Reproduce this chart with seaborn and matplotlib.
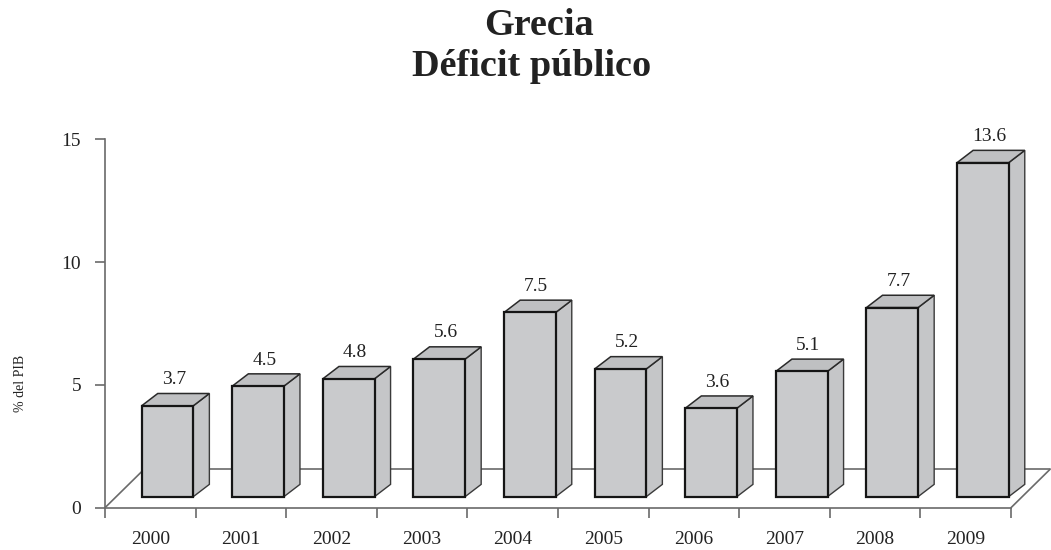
import matplotlib
matplotlib.use("Agg")
import matplotlib.pyplot as plt
from matplotlib.patches import Polygon
import numpy as np
import pandas as pd
import seaborn as sns

# Greek public deficit, % of GDP
years = ["2000", "2001", "2002", "2003", "2004", "2005", "2006", "2007", "2008", "2009"]
deficit = [3.7, 4.5, 4.8, 5.6, 7.5, 5.2, 3.6, 5.1, 7.7, 13.6]
y_ticks = [0, 5, 10, 15]

title_line1 = "Grecia"
title_line2 = "Déficit público"
y_label = "% del PIB"

sns.set_theme(style="white")
plt.rcParams["font.family"] = ["Liberation Serif", "DejaVu Serif"]

TEXT = "#222222"
AXIS = "#6a6a6a"
FRONT = "#c9cacc"
SIDE = "#c5c6c8"
TOP = "#bfc0c2"

# pseudo-3D geometry (data units: 1 per category on x, value units on y)
BASE = 0.45           # bars stand in the middle of the floor depth
BAR_SHIFT = 0.19      # bar front face sits right of the slot centre
BAR_W = 0.57
SIDE_DX, SIDE_DY = 0.177, 0.5
FLOOR_DX, FLOOR_DY = 0.43, 1.56

fig = plt.figure(figsize=(10.51, 5.50), dpi=100)
ax = fig.add_axes([105 / 1051, 42.3 / 550, 906 / 1051, 368.4 / 550])

pos = np.arange(len(years)) + BAR_SHIFT
df = pd.DataFrame({"pos": pos, "deficit": deficit})

sns.barplot(data=df, x="pos", y="deficit", native_scale=True, width=BAR_W,
            errorbar=None, color=FRONT, edgecolor="#151515", linewidth=1.6,
            bottom=BASE, zorder=3, ax=ax)

for p in ax.patches:
    p.set_facecolor(FRONT)
    p.set_clip_on(False)

# floor outline
n = len(years)
x0, x1 = -0.5, n - 0.5
ax.plot([x0, x0 + FLOOR_DX], [0, FLOOR_DY], color=AXIS, lw=1.2, zorder=1, clip_on=False)
ax.plot([x0 + FLOOR_DX, x1 + FLOOR_DX], [FLOOR_DY, FLOOR_DY], color=AXIS, lw=1.2,
        zorder=1, clip_on=False)
ax.plot([x1, x1 + FLOOR_DX], [0, FLOOR_DY], color=AXIS, lw=1.2, zorder=1, clip_on=False)

# side and top faces built from the bar rectangles, plus value labels
bars = sorted(ax.patches, key=lambda r: r.get_x())
for rect, v in zip(bars, deficit):
    xl = rect.get_x()
    xr = xl + rect.get_width()
    yb = rect.get_y()
    yt = yb + rect.get_height()
    side = Polygon([(xr, yb), (xr + SIDE_DX, yb + SIDE_DY), (xr + SIDE_DX, yt + SIDE_DY), (xr, yt)],
                   closed=True, facecolor=SIDE, edgecolor="#3a3a3a", lw=1.0, zorder=2,
                   clip_on=False)
    top = Polygon([(xl, yt), (xl + SIDE_DX, yt + SIDE_DY), (xr + SIDE_DX, yt + SIDE_DY), (xr, yt)],
                  closed=True, facecolor=TOP, edgecolor="#2a2a2a", lw=1.1, zorder=2,
                  clip_on=False)
    ax.add_patch(side)
    ax.add_patch(top)
    ax.text((xl + xr) / 2 + 0.07, yt + SIDE_DY + 0.38, f"{v:.1f}", ha="center",
            va="baseline", fontsize=14, color=TEXT, zorder=4, clip_on=False)

ax.set_xlim(x0, x1)
ax.set_ylim(0, 15)

# category boundaries carry the tick marks, labels sit in the middle of each slot
ax.set_xticks(np.arange(n + 1) - 0.5)
ax.set_xticklabels([])
ax.set_xticks(np.arange(n), minor=True)
ax.set_xticklabels(years, minor=True)
ax.tick_params(axis="x", which="major", direction="out", length=7.2, width=1.2,
               color=AXIS, bottom=True)
ax.tick_params(axis="x", which="minor", length=0, pad=17, labelsize=14, labelcolor=TEXT)
ax.set_yticks(y_ticks)
ax.tick_params(axis="y", direction="out", length=7.2, width=1.2, color=AXIS,
               left=True, pad=10, labelsize=14, labelcolor=TEXT)
ax.set_xlabel("")
ax.set_ylabel("")

for s in ["top", "right"]:
    ax.spines[s].set_visible(False)
for s in ["left", "bottom"]:
    ax.spines[s].set_color(AXIS)
    ax.spines[s].set_linewidth(1.2)
ax.set_facecolor("white")
ax.grid(False)

fig.text(21 / 1051, 1 - 383 / 550, y_label, rotation=90, ha="center", va="center",
         fontsize=10, color=TEXT)
fig.text(539 / 1051, 1 - 35 / 550, title_line1, ha="center", va="baseline",
         fontsize=27.5, fontweight="bold", color=TEXT)
fig.text(532 / 1051, 1 - 76 / 550, title_line2, ha="center", va="baseline",
         fontsize=27.5, fontweight="bold", color=TEXT)

fig.savefig("out.png", dpi=100, facecolor="white")
